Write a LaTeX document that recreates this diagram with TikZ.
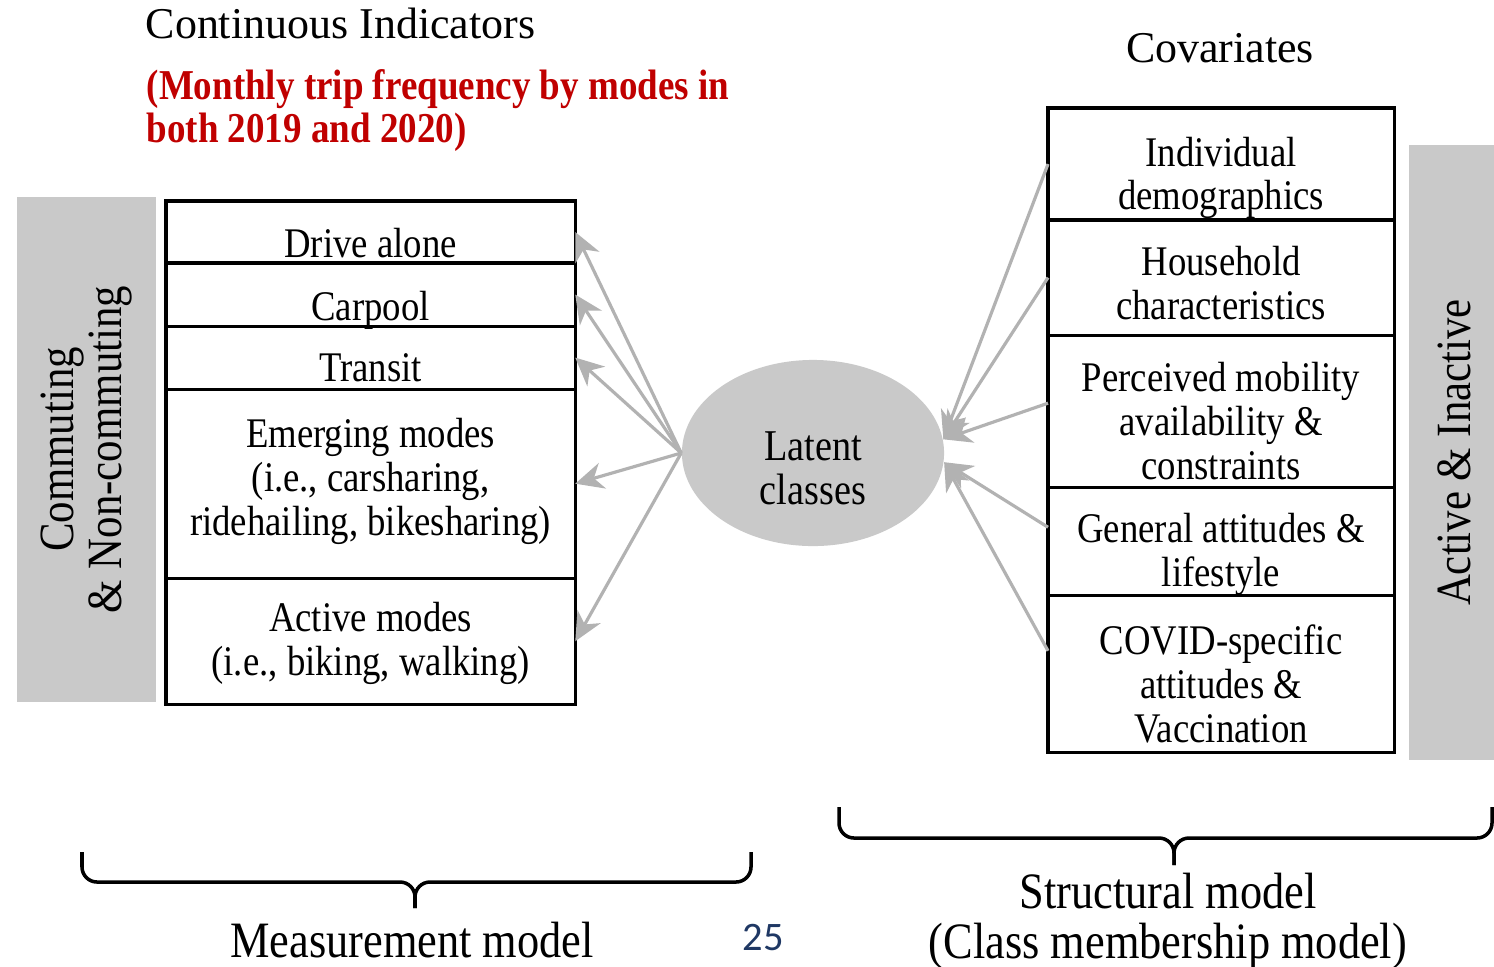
\documentclass[tikz,border=0pt]{standalone}
\usepackage{fontspec}
\setmainfont{Liberation Serif}[FakeStretch=0.87]
\newfontfamily\headfont{Liberation Serif}
\newfontfamily\pagefont{Carlito}
\usepackage{tikz}
\usetikzlibrary{shapes.geometric, arrows.meta, positioning}

\definecolor{shade}{RGB}{201,201,201}
\definecolor{linkgray}{RGB}{178,178,178}
\definecolor{notered}{RGB}{192,0,0}
\definecolor{pageblue}{RGB}{31,56,100}

\begin{document}
\begin{tikzpicture}[
    x=0.01cm, y=-0.01cm,
    cell/.style={rectangle, draw=black, line width=0.9pt, inner sep=0pt, outer sep=0pt},
    mode/.style={cell, minimum width=4.09cm},
    covar/.style={cell, minimum width=3.46cm},
    txt/.style={align=center, inner sep=0pt, font=\fontsize{12}{12.5}\selectfont},
    side/.style={rectangle, fill=shade, rotate=90, inner sep=0pt, align=center, font=\fontsize{14}{13.7}\selectfont},
    link/.style={draw=linkgray, line width=0.9pt, -{Stealth[length=8pt, width=7.5pt, inset=2.5pt]}},
    brace/.style={draw=black, line width=1pt, rounded corners=0.15cm},
    caption/.style={align=center, inner sep=0pt, font=\fontsize{14.5}{14.2}\selectfont}
]
    \path[fill=white, use as bounding box] (0,0) rectangle (1494,966);

    % headings
    \node[anchor=base west, inner sep=0pt, font=\headfont\fontsize{12.5}{13}\selectfont] (indic) at (145,38) {Continuous Indicators};
    \node[anchor=north west, inner sep=0pt, align=left, text=notered, font=\bfseries\fontsize{12.1}{12.2}\selectfont] (freq) at (146,69) {(Monthly trip frequency by modes in\\both 2019 and 2020)};
    \node[anchor=base, inner sep=0pt, font=\headfont\fontsize{12.5}{13}\selectfont] (covtitle) at (1220,62) {Covariates};

    % grey side bars
    \node[side, minimum width=5.05cm, minimum height=1.39cm] (trips) at (86.5,449.5) {Commuting\\\& Non-commuting};
    \node[side, minimum width=6.15cm, minimum height=0.90cm] (activity) at (1454,452.5) {Active \& Inactive};

    % indicator column
    \node[mode, minimum height=0.62cm, anchor=north west] (drive) at (166,201) {};
    \node[mode, minimum height=0.63cm, below=0pt of drive] (carpool) {};
    \node[mode, minimum height=0.63cm, below=0pt of carpool] (transit) {};
    \node[mode, minimum height=1.89cm, below=0pt of transit] (emerging) {};
    \node[mode, minimum height=1.26cm, below=0pt of emerging] (active) {};
    \node[txt, below=0.26cm of drive.north] (drivetxt) {Drive alone};
    \node[txt, below=0.27cm of carpool.north] (carpooltxt) {Carpool};
    \node[txt, below=0.27cm of transit.north] (transittxt) {Transit};
    \node[txt, below=0.28cm of emerging.north] (emergingtxt) {Emerging modes\\(i.e., carsharing,\\ridehailing, bikesharing)};
    \node[txt, below=0.23cm of active.north] (activetxt) {Active modes\\(i.e., biking, walking)};

    % covariate column
    \node[covar, minimum height=1.12cm, anchor=north west] (indiv) at (1048,108) {};
    \node[covar, minimum height=1.15cm, below=0pt of indiv] (house) {};
    \node[covar, minimum height=1.52cm, below=0pt of house] (perceived) {};
    \node[covar, minimum height=1.08cm, below=0pt of perceived] (attitude) {};
    \node[covar, minimum height=1.57cm, below=0pt of attitude] (covid) {};
    \node[txt, below=0.28cm of indiv.north] (indivtxt) {Individual\\demographics};
    \node[txt, below=0.25cm of house.north] (housetxt) {Household\\characteristics};
    \node[txt, below=0.26cm of perceived.north] (perceivedtxt) {Perceived mobility\\availability \&\\constraints};
    \node[txt, below=0.25cm of attitude.north] (attitudetxt) {General attitudes \&\\lifestyle};
    \node[txt, below=0.29cm of covid.north] (covidtxt) {COVID-specific\\attitudes \&\\Vaccination};

    % latent class node
    \node[ellipse, fill=shade, minimum width=2.62cm, minimum height=1.86cm, inner sep=0pt] (latent) at (813,453) {};
    \node[txt, below=0.72cm of latent.north, font=\fontsize{12.5}{12.3}\selectfont] (latenttxt) {Latent\\classes};

    % measurement arrows
    \foreach \ind in {drive, carpool, transit, emerging, active}
        \draw[link] (latent.west) -- (\ind.east);

    % structural arrows
    \draw[link] (indiv.west) -- (latent.6);
    \draw[link] (house.west) -- (latent.6);
    \draw[link] ([yshift=0.08cm]perceived.west) -- (latent.6);
    \draw[link] ([yshift=0.14cm]attitude.west) -- (latent.-4);
    \draw[link] ([yshift=0.23cm]covid.west) -- (latent.-4);

    % braces under the two halves
    \draw[brace] (82,852) -- (82,882) -- (415,882) -- (415,908);
    \draw[brace] (751,852) -- (751,882) -- (415,882) -- (415,908);
    \draw[brace] (839,807) -- (839,838) -- (1174,838) -- (1174,865);
    \draw[brace] (1492,807) -- (1492,838) -- (1174,838) -- (1174,865);

    \node[caption, anchor=base] (measure) at (412,957) {Measurement model};
    \node[caption, anchor=north] (struct) at (1168,872) {Structural model\\(Class membership model)};

    \node[text=pageblue, font=\pagefont\fontsize{11.5}{12}\selectfont] (pageno) at (763,937) {25};
\end{tikzpicture}
\end{document}
